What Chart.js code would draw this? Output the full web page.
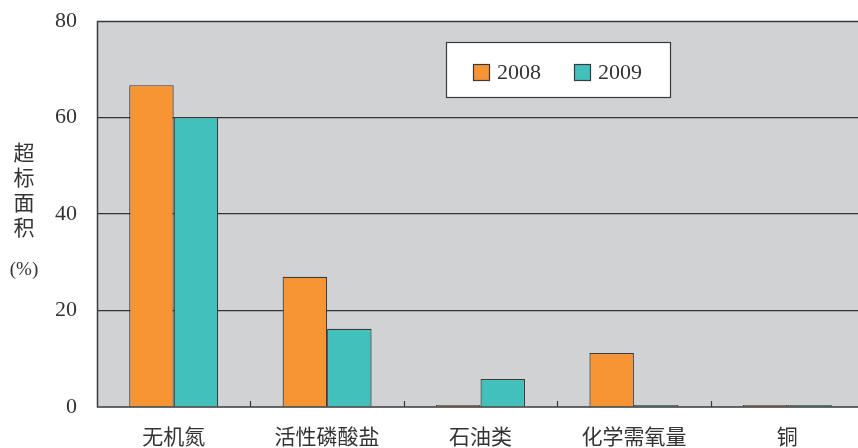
<!DOCTYPE html>
<html>
<head>
<meta charset="utf-8">
<script src="https://cdn.jsdelivr.net/npm/chart.js@4"></script>
<style>
  html, body { margin: 0; padding: 0; background: #fff; overflow: hidden; }
  #wrap { width: 858px; height: 448px; overflow: hidden; }
</style>
</head>
<body>
<div id="wrap"><canvas id="myChart" width="864" height="448"></canvas></div>
<script>
// data
const categories = ['无机氮', '活性磷酸盐', '石油类', '化学需氧量', '铜'];
const years = ['2008', '2009'];
const values2008 = [66.7, 27.0, 0.4, 11.2, 0.4];
const values2009 = [60.1, 16.2, 5.8, 0.4, 0.4];
const yTicks = [0, 20, 40, 60, 80];
const yTitle = ['超', '标', '面', '积'];

const serif = "'Liberation Serif', 'Noto Sans CJK SC', serif";
const orange = '#f79433';
const teal = '#42c0bc';
const edge = '#3a3a3a';

// grey plot area, inward ticks, axis title and framed legend
const decor = {
    id: 'decor',
    beforeDraw(chart) {
        const a = chart.chartArea;
        const ctx = chart.ctx;
        ctx.save();
        ctx.fillStyle = '#d1d2d4';
        ctx.fillRect(a.left, a.top, a.right - a.left, a.bottom - a.top);
        ctx.restore();
    },
    afterDraw(chart) {
        const a = chart.chartArea;
        const ctx = chart.ctx;
        const x = chart.scales.x;
        ctx.save();
        // frame
        ctx.strokeStyle = edge;
        ctx.lineWidth = 1.5;
        ctx.beginPath();
        ctx.moveTo(a.right, a.top + 0.5);
        ctx.lineTo(a.left + 0.5, a.top + 0.5);
        ctx.lineTo(a.left + 0.5, a.bottom);
        ctx.lineTo(a.right, a.bottom);
        ctx.stroke();
        // small ticks between categories
        ctx.lineWidth = 1.2;
        const step = x.getPixelForValue(1) - x.getPixelForValue(0);
        for (let i = 1; i < categories.length; i++) {
            const px = Math.round(x.getPixelForValue(i) - step / 2) + 0.5;
            ctx.beginPath();
            ctx.moveTo(px, a.bottom);
            ctx.lineTo(px, a.bottom - 6);
            ctx.stroke();
        }
        // y axis title, stacked
        ctx.fillStyle = '#333';
        ctx.textAlign = 'center';
        ctx.textBaseline = 'middle';
        ctx.font = "21px 'Noto Sans CJK SC'";
        yTitle.forEach((c, i) => ctx.fillText(c, 24, 152 + i * 25));
        ctx.font = "19px " + serif;
        ctx.fillText('(%)', 24, 270);
        // legend
        const lx = 446, ly = 42, lw = 224, lh = 55;
        ctx.fillStyle = '#fff';
        ctx.fillRect(lx, ly, lw, lh);
        ctx.strokeStyle = edge;
        ctx.lineWidth = 1.2;
        ctx.strokeRect(lx + 0.5, ly + 0.5, lw, lh);
        chart.data.datasets.forEach((ds, i) => {
            const bx = 473 + i * 101;
            ctx.fillStyle = ds.backgroundColor;
            ctx.fillRect(bx, 64, 16, 16);
            ctx.strokeStyle = edge;
            ctx.strokeRect(bx + 0.5, 64.5, 16, 16);
            ctx.fillStyle = '#333';
            ctx.textAlign = 'left';
            ctx.font = "22px " + serif;
            ctx.fillText(ds.label, bx + 24, 73);
        });
        ctx.restore();
    }
};

const ctx = document.getElementById('myChart').getContext('2d');
const myChart = new Chart(ctx, {
    type: 'bar',
    data: {
        labels: categories,
        datasets: [{
            label: years[0],
            data: values2008,
            backgroundColor: orange,
            borderColor: edge,
            borderWidth: 1.2,
            categoryPercentage: 0.58,
            barPercentage: 1
        }, {
            label: years[1],
            data: values2009,
            backgroundColor: teal,
            borderColor: edge,
            borderWidth: 1.2,
            categoryPercentage: 0.58,
            barPercentage: 1
        }]
    },
    options: {
        responsive: false,
        animation: false,
        layout: { padding: { top: 21, right: 0, left: 0, bottom: 0 } },
        plugins: {
            legend: { display: false },
            tooltip: { enabled: false }
        },
        scales: {
            x: {
                grid: { display: false },
                border: { display: false },
                ticks: {
                    color: '#333',
                    font: { family: "'Noto Sans CJK SC'", size: 21 },
                    padding: 8
                },
                afterFit: (s) => { s.height = 41; s.paddingLeft = 0; s.paddingRight = 0; }
            },
            y: {
                min: 0,
                max: 80,
                afterBuildTicks: (s) => { s.ticks = yTicks.map(v => ({ value: v })); },
                grid: {
                    drawTicks: false,
                    color: (c) => (c.tick && (c.tick.value === 0 || c.tick.value === 80)) ? 'rgba(0,0,0,0)' : '#333',
                    lineWidth: 1.2
                },
                border: { display: false },
                ticks: {
                    color: '#333',
                    font: { family: serif, size: 22 },
                    padding: 20
                },
                afterFit: (s) => { s.width = 97; s.paddingTop = 0; s.paddingBottom = 0; }
            }
        }
    },
    plugins: [decor]
});
</script>
</body>
</html>
